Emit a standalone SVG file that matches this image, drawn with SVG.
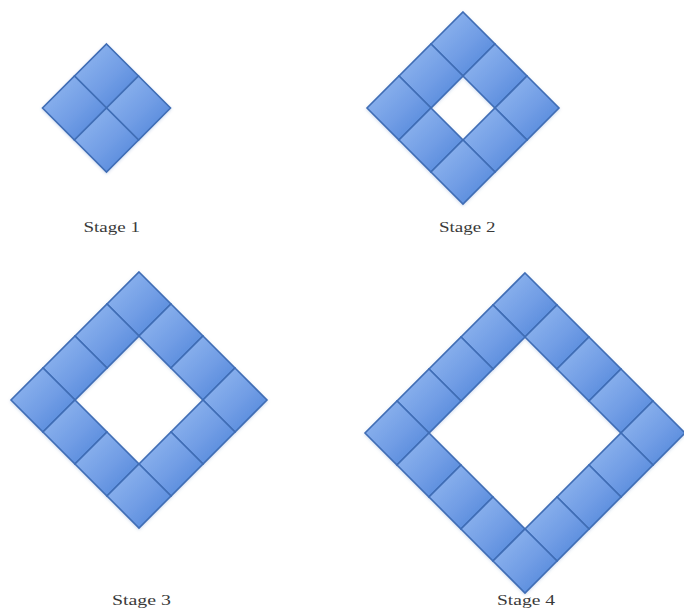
<svg xmlns="http://www.w3.org/2000/svg" xmlns:xlink="http://www.w3.org/1999/xlink" width="684" height="609" viewBox="0 0 684 609">
  <style>
    .tile { fill: url(#tileGrad); stroke: #3f6db5; stroke-width: 1.6; stroke-linejoin: miter; }
    .label { font-family: "Liberation Serif", "Times New Roman", serif; font-size: 14px; fill: #3a3a3a; }
  </style>
  <defs>
    <linearGradient id="tileGrad" x1="0" y1="0" x2="1" y2="1">
      <stop offset="0" stop-color="#96bbf1"/>
      <stop offset="0.55" stop-color="#719de5"/>
      <stop offset="1" stop-color="#4b82d8"/>
    </linearGradient>
    <filter id="glow" x="-10%" y="-10%" width="120%" height="120%">
      <feDropShadow dx="0" dy="1" stdDeviation="1.5" flood-color="#6a8fc8" flood-opacity="0.35"/>
    </filter>
    <polygon id="t" class="tile" points="0,-32 32,0 0,32 -32,0"/>
  </defs>

  <rect width="684" height="609" fill="#ffffff"/>

  <!-- Stage 1: n=2, center (106.5,108) -->
  <g id="stage1" filter="url(#glow)">
    <use xlink:href="#t" x="106.5" y="76"/>
    <use xlink:href="#t" x="138.5" y="108"/>
    <use xlink:href="#t" x="74.5" y="108"/>
    <use xlink:href="#t" x="106.5" y="140"/>
  </g>

  <!-- Stage 2: n=3 ring, top (463,12) -->
  <g id="stage2" filter="url(#glow)">
    <use xlink:href="#t" x="463" y="44"/>
    <use xlink:href="#t" x="495" y="76"/>
    <use xlink:href="#t" x="527" y="108"/>
    <use xlink:href="#t" x="431" y="76"/>
    <use xlink:href="#t" x="399" y="108"/>
    <use xlink:href="#t" x="495" y="140"/>
    <use xlink:href="#t" x="431" y="140"/>
    <use xlink:href="#t" x="463" y="172"/>
  </g>

  <!-- Stage 3: n=4 ring, top (139,272) -->
  <g id="stage3" filter="url(#glow)">
    <use xlink:href="#t" x="139" y="304"/>
    <use xlink:href="#t" x="171" y="336"/>
    <use xlink:href="#t" x="203" y="368"/>
    <use xlink:href="#t" x="235" y="400"/>
    <use xlink:href="#t" x="107" y="336"/>
    <use xlink:href="#t" x="75" y="368"/>
    <use xlink:href="#t" x="43" y="400"/>
    <use xlink:href="#t" x="203" y="432"/>
    <use xlink:href="#t" x="171" y="464"/>
    <use xlink:href="#t" x="75" y="432"/>
    <use xlink:href="#t" x="107" y="464"/>
    <use xlink:href="#t" x="139" y="496"/>
  </g>

  <!-- Stage 4: n=5 ring, top (525,273) -->
  <g id="stage4" filter="url(#glow)">
    <use xlink:href="#t" x="525" y="305"/>
    <use xlink:href="#t" x="557" y="337"/>
    <use xlink:href="#t" x="589" y="369"/>
    <use xlink:href="#t" x="621" y="401"/>
    <use xlink:href="#t" x="653" y="433"/>
    <use xlink:href="#t" x="493" y="337"/>
    <use xlink:href="#t" x="461" y="369"/>
    <use xlink:href="#t" x="429" y="401"/>
    <use xlink:href="#t" x="397" y="433"/>
    <use xlink:href="#t" x="621" y="465"/>
    <use xlink:href="#t" x="589" y="497"/>
    <use xlink:href="#t" x="557" y="529"/>
    <use xlink:href="#t" x="429" y="465"/>
    <use xlink:href="#t" x="461" y="497"/>
    <use xlink:href="#t" x="493" y="529"/>
    <use xlink:href="#t" x="525" y="561"/>
  </g>

  <g id="labels">
    <text class="label" x="83.5" y="231.5" textLength="56.5" lengthAdjust="spacingAndGlyphs">Stage 1</text>
    <text class="label" x="439" y="231.5" textLength="56.5" lengthAdjust="spacingAndGlyphs">Stage 2</text>
    <text class="label" x="112" y="604.5" textLength="59" lengthAdjust="spacingAndGlyphs">Stage 3</text>
    <text class="label" x="497" y="604.5" textLength="58" lengthAdjust="spacingAndGlyphs">Stage 4</text>
  </g>
</svg>
